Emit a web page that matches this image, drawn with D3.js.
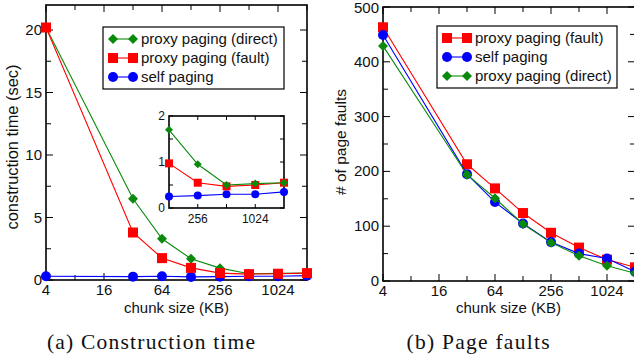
<!DOCTYPE html>
<html>
<head>
<meta charset="utf-8">
<script src="https://cdn.jsdelivr.net/npm/d3@7"></script>
<style>
  html, body { margin: 0; padding: 0; background: #fff; }
  svg { display: block; }
  text { font-family: "Liberation Sans", Arial, sans-serif; fill: #111; }
  .cap { font-family: "Liberation Serif", "Times New Roman", serif; }
</style>
</head>
<body>
<div id="chart"></div>
<script>
// chunk sizes in KB (x positions for both panels)
const chunkKB = [4, 32, 64, 128, 256, 512, 1024, 2048];
const xTickLabels = [4, 16, 64, 256, 1024];

// (a) construction time, sec
const timeDirect = [20.2, 6.5, 3.3, 1.7, 0.95, 0.5, 0.53, 0.55];
const timeFault  = [20.2, 3.8, 1.75, 0.97, 0.55, 0.47, 0.5, 0.55];
const timeSelf   = [0.3, 0.27, 0.3, 0.25, 0.27, 0.3, 0.3, 0.35];

// (b) number of page faults
const faultsFault  = [463, 213, 169, 124, 88, 61, 39, 25];
const faultsSelf   = [449, 195, 144, 105, 71, 50, 41, 17];
const faultsDirect = [429, 194, 151, 104, 70, 46, 28, 14];

const GREEN = "#0a8a0a", RED = "#ff0000", BLUE = "#0000ff";

const svg = d3.select("#chart").append("svg").attr("width", 634).attr("height", 360);

function marker(sel, shape, color, size) {
  if (shape === "square") {
    sel.append("rect").attr("x", -size / 2).attr("y", -size / 2).attr("width", size).attr("height", size).attr("fill", color);
  } else if (shape === "circle") {
    sel.append("circle").attr("r", size / 2).attr("fill", color);
  } else {
    const h = size / 2;
    sel.append("path").attr("d", `M0,${-h}L${h},0L0,${h}L${-h},0Z`).attr("fill", color);
  }
}

function drawSeries(g, x, y, xs, ys, s, size) {
  const line = d3.line().x((d, i) => x(xs[i])).y(d => y(d));
  g.append("path").datum(ys).attr("d", line).attr("fill", "none").attr("stroke", s.color).attr("stroke-width", 1.1);
  ys.forEach((v, i) => {
    const m = g.append("g").attr("transform", `translate(${x(xs[i])},${y(v)})`);
    marker(m, s.shape, s.color, size);
  });
}

function frame(g, x, y, yMajor, yMinor, xMajor, xMinor, majLen, minLen) {
  const [x0, x1] = x.range(), [y0, y1] = y.range();
  const t = g.append("g").attr("stroke", "#000").attr("stroke-width", 1);
  xMajor.concat(xMinor).forEach(v => {
    const len = xMajor.includes(v) ? majLen : minLen;
    t.append("line").attr("x1", x(v)).attr("x2", x(v)).attr("y1", y0).attr("y2", y0 - len);
    t.append("line").attr("x1", x(v)).attr("x2", x(v)).attr("y1", y1).attr("y2", y1 + len);
  });
  yMajor.concat(yMinor).forEach(v => {
    const len = yMajor.includes(v) ? majLen : minLen;
    t.append("line").attr("y1", y(v)).attr("y2", y(v)).attr("x1", x0).attr("x2", x0 + len);
    t.append("line").attr("y1", y(v)).attr("y2", y(v)).attr("x1", x1).attr("x2", x1 - len);
  });
  g.append("rect").attr("x", x0).attr("y", y1).attr("width", x1 - x0).attr("height", y0 - y1)
    .attr("fill", "none").attr("stroke", "#000").attr("stroke-width", 1.6);
}

function legend(g, x0, y0, w, h, items) {
  g.append("rect").attr("x", x0).attr("y", y0).attr("width", w).attr("height", h)
    .attr("fill", "#fff").attr("stroke", "#000").attr("stroke-width", 1.2);
  items.forEach((s, i) => {
    const cy = y0 + 12 + i * 19;
    g.append("line").attr("x1", x0 + 10).attr("x2", x0 + 30).attr("y1", cy).attr("y2", cy).attr("stroke", s.color).attr("stroke-width", 1.1);
    [x0 + 10, x0 + 30].forEach(cx => marker(g.append("g").attr("transform", `translate(${cx},${cy})`), s.shape, s.color, 10));
    g.append("text").attr("x", x0 + 38).attr("y", cy + 5).attr("font-size", "15px").text(s.name);
  });
}

function panel(opt) {
  const g = svg.append("g");
  const x = d3.scaleLog().base(2).domain([4, 2048]).range([opt.left, opt.right]);
  const y = d3.scaleLinear().domain(opt.yDomain).range([opt.bottom, opt.top]);
  const xMinor = [8, 32, 128, 512, 2048];
  frame(g, x, y, opt.yMajor, opt.yMinor, xTickLabels, xMinor, 7, 5);

  opt.yMajor.forEach(v => g.append("text").attr("x", opt.left - 4).attr("y", Math.max(y(v) + 5, 12.5))
    .attr("text-anchor", "end").attr("font-size", "15px").text(v));
  xTickLabels.forEach(v => g.append("text").attr("x", x(v)).attr("y", opt.bottom + 15)
    .attr("text-anchor", "middle").attr("font-size", "15px").text(v));

  g.append("text").attr("x", (opt.left + Math.min(opt.right, 634)) / 2).attr("y", 313)
    .attr("text-anchor", "middle").attr("font-size", "15px").text("chunk size (KB)");
  g.append("text").attr("transform", `translate(${opt.yLabelX},${opt.yLabelY}) rotate(-90)`)
    .attr("text-anchor", "middle").attr("font-size", opt.yLabelSize).text(opt.yLabel);

  opt.series.forEach(s => drawSeries(g, x, y, chunkKB, s.values, s, 10));
  legend(g, opt.legend[0], opt.legend[1], opt.legend[2], opt.legend[3], opt.legendItems);

  g.append("text").attr("class", "cap").attr("x", opt.capX).attr("y", 349)
    .attr("text-anchor", "middle").attr("font-size", "21.5px")
    .attr("textLength", opt.capW).attr("lengthAdjust", "spacing").text(opt.caption);
  return g;
}

const direct = { name: "proxy paging (direct)", color: GREEN, shape: "diamond", values: timeDirect };
const fault  = { name: "proxy paging (fault)", color: RED, shape: "square", values: timeFault };
const self   = { name: "self paging", color: BLUE, shape: "circle", values: timeSelf };

const gA = panel({
  left: 46, right: 307, top: 5, bottom: 280,
  yDomain: [0, 22], yMajor: [0, 5, 10, 15, 20], yMinor: [2.5, 7.5, 12.5, 17.5],
  yLabel: "construction time (sec)", yLabelX: 18, yLabelY: 147, yLabelSize: "16.4px",
  series: [self, direct, fault],
  legend: [103, 27, 181, 62], legendItems: [direct, fault, self],
  caption: "(a) Construction time", capX: 151, capW: 208
});

// inset: zoom on 128..2048 KB
(function inset() {
  const g = gA.append("g");
  const x = d3.scaleLog().base(2).domain([128, 2048]).range([169, 284]);
  const y = d3.scaleLinear().domain([0, 2]).range([208, 116]);
  g.append("rect").attr("x", 169).attr("y", 116).attr("width", 115).attr("height", 92).attr("fill", "#fff");
  frame(g, x, y, [0, 1, 2], [0.5, 1.5], [256, 1024], [512], 4, 4);
  [0, 1, 2].forEach(v => g.append("text").attr("x", 165).attr("y", y(v) + 4)
    .attr("text-anchor", "end").attr("font-size", "12px").text(v));
  [256, 1024].forEach(v => g.append("text").attr("x", x(v)).attr("y", 223)
    .attr("text-anchor", "middle").attr("font-size", "12px").text(v));
  const xs = chunkKB.slice(3);
  [self, fault, direct].forEach(s => drawSeries(g, x, y, xs, s.values.slice(3), s, 8));
})();

panel({
  left: 383, right: 635, top: 7, bottom: 281,
  yDomain: [0, 500], yMajor: [0, 100, 200, 300, 400, 500], yMinor: [50, 150, 250, 350, 450],
  yLabel: "# of page faults", yLabelX: 346, yLabelY: 142, yLabelSize: "15.5px",
  series: [
    { color: RED, shape: "square", values: faultsFault },
    { color: BLUE, shape: "circle", values: faultsSelf },
    { color: GREEN, shape: "diamond", values: faultsDirect }
  ],
  legend: [437, 26, 180, 62],
  legendItems: [
    { name: "proxy paging (fault)", color: RED, shape: "square" },
    { name: "self paging", color: BLUE, shape: "circle" },
    { name: "proxy paging (direct)", color: GREEN, shape: "diamond" }
  ],
  caption: "(b) Page faults", capX: 478, capW: 143
});
</script>
</body>
</html>
